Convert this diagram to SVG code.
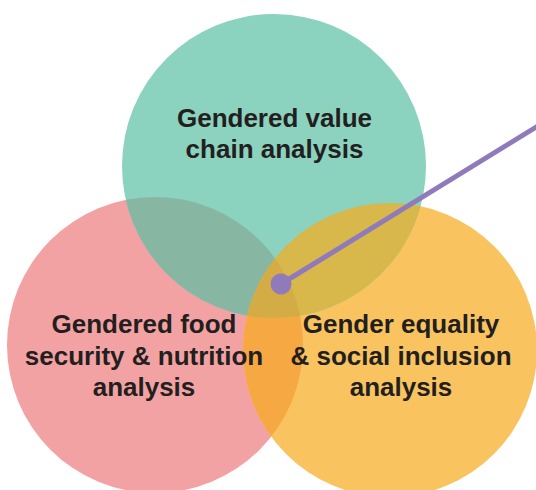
<svg xmlns="http://www.w3.org/2000/svg" width="536" height="490" viewBox="0 0 536 490">
  <style>
    .lbl { font-family: "Liberation Sans", Arial, Helvetica, sans-serif; font-weight: bold; font-size: 26px; fill: #231F20; text-anchor: middle; }
    .conn { stroke: #8F7BBB; stroke-width: 5; fill: none; }
  </style>
  <defs>
    <clipPath id="clipPink"><circle cx="155" cy="345" r="148"/></clipPath>
    <clipPath id="clipYellow"><circle cx="390" cy="350" r="147"/></clipPath>
    <clipPath id="clipTeal"><circle cx="274" cy="166" r="152"/></clipPath>
  </defs>
  <rect width="536" height="490" fill="#FFFFFF"/>

  <g id="node-food-security">
    <circle cx="155" cy="345" r="148" fill="#F3A2A3"/>
  </g>
  <g id="node-gesi">
    <circle cx="390" cy="350" r="147" fill="#F9C45F"/>
  </g>
  <g id="node-value-chain">
    <circle cx="274" cy="166" r="152" fill="#8BD2BF"/>
  </g>

  <g id="overlaps">
    <circle cx="274" cy="166" r="152" fill="#87B6A2" clip-path="url(#clipPink)"/>
    <circle cx="390" cy="350" r="147" fill="#F6A843" clip-path="url(#clipPink)"/>
    <circle cx="274" cy="166" r="152" fill="#D8B74B" clip-path="url(#clipYellow)"/>
    <g clip-path="url(#clipPink)">
      <circle cx="274" cy="166" r="152" fill="#D4AC45" clip-path="url(#clipYellow)"/>
    </g>
  </g>

  <g id="labels">
    <text id="label-value-chain" class="lbl"><tspan x="274.5" y="127">Gendered value</tspan><tspan x="274.5" y="158">chain analysis</tspan></text>
    <text id="label-food-security" class="lbl"><tspan x="144" y="333">Gendered food</tspan><tspan x="144" y="364.5">security &amp; nutrition</tspan><tspan x="144" y="396">analysis</tspan></text>
    <text id="label-gesi" class="lbl"><tspan x="401" y="333">Gender equality</tspan><tspan x="401" y="364.5">&amp; social inclusion</tspan><tspan x="401" y="396">analysis</tspan></text>
  </g>

  <g id="connectors">
    <line class="conn" x1="281" y1="284" x2="542" y2="123.5"/>
    <circle cx="281" cy="284" r="10.5" fill="#8F7BBB"/>
  </g>
</svg>
